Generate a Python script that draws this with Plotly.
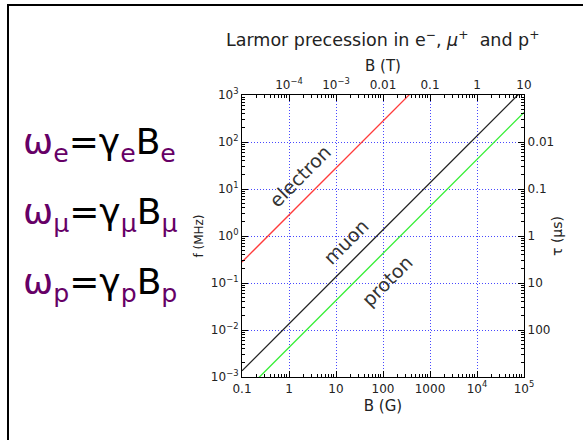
import math
import plotly.graph_objects as go

# Field range (gauss) and Larmor frequencies (MHz) at its two ends
B_gauss = [0.1, 1e5]
f_electron = [0.28, 2.8e5]
f_muon = [1.355e-3, 1355.0]
f_proton = [4.258e-4, 425.8]

# Axis tick labels
x_ticks = [0.1, 1, 10, 100, 1000, 1e4, 1e5]
x_text = ["0.1", "1", "10", "100", "1000", "10<sup>4</sup>", "10<sup>5</sup>"]
top_ticks = [1, 10, 100, 1000, 1e4, 1e5]
top_text = ["10<sup>−4</sup>", "10<sup>−3</sup>", "0.01", "0.1", "1", "10"]
y_ticks = [1e-3, 1e-2, 1e-1, 1, 10, 100, 1000]
y_text = ["10<sup>−3</sup>", "10<sup>−2</sup>", "10<sup>−1</sup>", "10<sup>0</sup>",
          "10<sup>1</sup>", "10<sup>2</sup>", "10<sup>3</sup>"]
tau_ticks = [100, 10, 1, 0.1, 0.01]
tau_text = ["0.01", "0.1", "1", "10", "100"]

# Curve labels: text, B (G), f (MHz)
label_text = ["electron", "muon", "proton"]
label_B = [1.7, 16.0, 120.0]
label_f = [19.0, 0.74, 0.11]

FONT = "DejaVu Sans"
PURPLE = "#660066"

def minor_vals(lo, hi):
    return [m * 10 ** e for e in range(lo, hi) for m in range(2, 10)]

x_minor = minor_vals(-1, 5)
y_minor = minor_vals(-3, 3)

fig = go.Figure()
fig.add_trace(go.Scatter(x=B_gauss, y=f_electron, mode="lines",
                         line=dict(color="#ff3b3b", width=1.3), showlegend=False))
fig.add_trace(go.Scatter(x=B_gauss, y=f_muon, mode="lines",
                         line=dict(color="#222222", width=1.3), showlegend=False))
fig.add_trace(go.Scatter(x=B_gauss, y=f_proton, mode="lines",
                         line=dict(color="#33ee33", width=1.3), showlegend=False))
# invisible trace that carries the top (tesla) and right (lifetime) axes
fig.add_trace(go.Scatter(x=B_gauss, y=[1e-3, 1e3], xaxis="x2", yaxis="y2",
                         mode="markers", marker=dict(opacity=0), hoverinfo="skip",
                         showlegend=False))

tick_font = dict(family=FONT, size=12, color="#222")
common = dict(type="log", showline=True, linecolor="black", linewidth=1.2,
              ticks="inside", ticklen=6, tickcolor="black", tickwidth=1,
              tickfont=tick_font, zeroline=False)
grid = dict(showgrid=True, gridcolor="#4848ff", gridwidth=1, griddash="1px,2px")

fig.update_layout(
    width=583, height=440,
    margin=dict(l=242, r=59, t=95, b=63),
    paper_bgcolor="white", plot_bgcolor="white",
    font=dict(family=FONT, color="#222"),
    xaxis=dict(range=[-1, 5], tickvals=x_ticks, ticktext=x_text,
               title=dict(text="B (G)", font=dict(size=15), standoff=5),
               minor=dict(tickvals=x_minor, ticks="inside", ticklen=3, tickcolor="black"),
               **grid, **common),
    yaxis=dict(range=[-3, 3], tickvals=y_ticks, ticktext=y_text,
               title=dict(text="f (MHz)", font=dict(size=12), standoff=4),
               minor=dict(tickvals=y_minor, ticks="inside", ticklen=3, tickcolor="black"),
               **grid, **common),
    xaxis2=dict(range=[-1, 5], overlaying="x", side="top", tickvals=top_ticks,
                ticktext=top_text, showgrid=False,
                title=dict(text="B (T)", font=dict(size=15), standoff=0),
                minor=dict(tickvals=x_minor, ticks="inside", ticklen=3, tickcolor="black"),
                **common),
    yaxis2=dict(range=[-3, 3], overlaying="y", side="right", tickvals=tau_ticks,
                ticktext=tau_text, showgrid=False,
                minor=dict(tickvals=y_minor, ticks="inside", ticklen=3, tickcolor="black"),
                **common),
)

# right-hand axis title
fig.add_annotation(x=(557 - 242) / 282, y=0.5, xref="paper", yref="paper",
                   xanchor="center", yanchor="middle",
                   text="τ (μs)", textangle=-90, showarrow=False,
                   font=dict(family=FONT, size=14, color="#222"))

# curve labels, running along the 45° lines (annotation coords are log10 on log axes)
for txt, lx, ly in zip(label_text, label_B, label_f):
    fig.add_annotation(x=math.log10(lx), y=math.log10(ly), xref="x", yref="y",
                       text=txt, showarrow=False, textangle=-45,
                       font=dict(family=FONT, size=19, color="#333"),
                       xanchor="center", yanchor="middle")

fig.add_annotation(x=0.5, y=1.2, xref="paper", yref="paper", showarrow=False,
                   yanchor="middle",
                   text="Larmor precession in e<sup>−</sup>, <i>μ</i><sup>+</sup>  and p<sup>+</sup>",
                   font=dict(family=FONT, size=17.5, color="#222"))

# precession relations on the left
relations = [("e", 0.825), ("μ", 0.578), ("p", 0.328)]
for sub, py in relations:
    s = f"<span style='color:{PURPLE}'>{sub}</span>"
    txt = (f"<span style='color:{PURPLE}'>ω<sub>{sub}</sub></span>=γ<sub>{s}</sub>"
           f"B<sub>{s}</sub>")
    fig.add_annotation(x=(21 - 242) / 282, y=py, xref="paper", yref="paper",
                       showarrow=False, xanchor="left", yanchor="middle", text=txt,
                       font=dict(family=FONT, size=36, color="black"))

# frame lines along the left and top edges
px = lambda p: (p - 242) / 282
py_ = lambda p: (377 - p) / 282
fig.add_shape(type="line", xref="paper", yref="paper", x0=px(8), x1=px(8),
              y0=py_(5), y1=py_(445), line=dict(color="black", width=2))
fig.add_shape(type="line", xref="paper", yref="paper", x0=px(7), x1=px(590),
              y0=py_(5), y1=py_(5), line=dict(color="black", width=2))

fig.write_html("out.html")
